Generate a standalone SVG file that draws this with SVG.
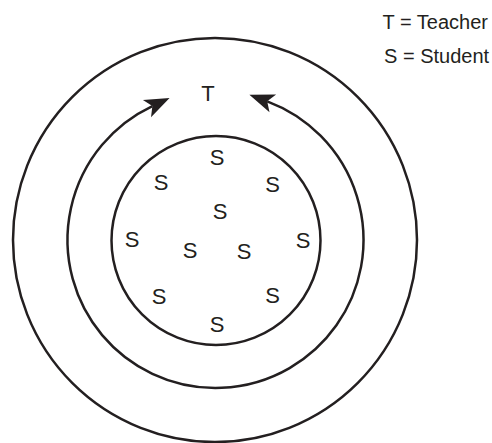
<svg xmlns="http://www.w3.org/2000/svg" width="492" height="443" viewBox="0 0 492 443">
  <style>
    .ring { fill: none; stroke: #231f20; stroke-width: 2.5; }
    .lbl { font-family: "Liberation Sans", Arial, sans-serif; font-size: 22px; fill: #231f20; text-anchor: middle; }
    .legend { font-family: "Liberation Sans", Arial, sans-serif; font-size: 20px; fill: #231f20; }
  </style>
  <defs>
    <marker id="arrow" markerUnits="userSpaceOnUse" viewBox="0 -10 26 20" markerWidth="26" markerHeight="20" refX="6" refY="0" orient="auto-start-reverse" overflow="visible">
      <path d="M25,0 L0,-9.5 L6,0 L0,9.5 Z" fill="#231f20"/>
    </marker>
  </defs>
  <rect width="492" height="443" fill="#ffffff"/>
  <g id="outer-circle">
    <circle class="ring" cx="215" cy="240" r="202"/>
  </g>
  <g id="connectors">
    <path class="ring" d="M152.4,106.1 A148,148 0 1,0 267.2,101.3" marker-start="url(#arrow)" marker-end="url(#arrow)"/>
  </g>
  <g id="teacher">
    <text class="lbl" x="208" y="101">T</text>
  </g>
  <g id="student-circle">
    <circle class="ring" cx="216" cy="240.5" r="104.5"/>
  </g>
  <g id="students">
    <text class="lbl" x="217" y="164.5">S</text>
    <text class="lbl" x="161" y="189.5">S</text>
    <text class="lbl" x="272.5" y="191.5">S</text>
    <text class="lbl" x="220" y="218.5">S</text>
    <text class="lbl" x="132" y="246.5">S</text>
    <text class="lbl" x="190" y="258">S</text>
    <text class="lbl" x="244" y="258.5">S</text>
    <text class="lbl" x="303" y="247.5">S</text>
    <text class="lbl" x="159" y="304">S</text>
    <text class="lbl" x="272.5" y="303">S</text>
    <text class="lbl" x="217" y="331.5">S</text>
  </g>
  <g id="legend">
    <text class="legend" x="382.5" y="28.5">T = Teacher</text>
    <text class="legend" x="384" y="63">S = Student</text>
  </g>
</svg>
